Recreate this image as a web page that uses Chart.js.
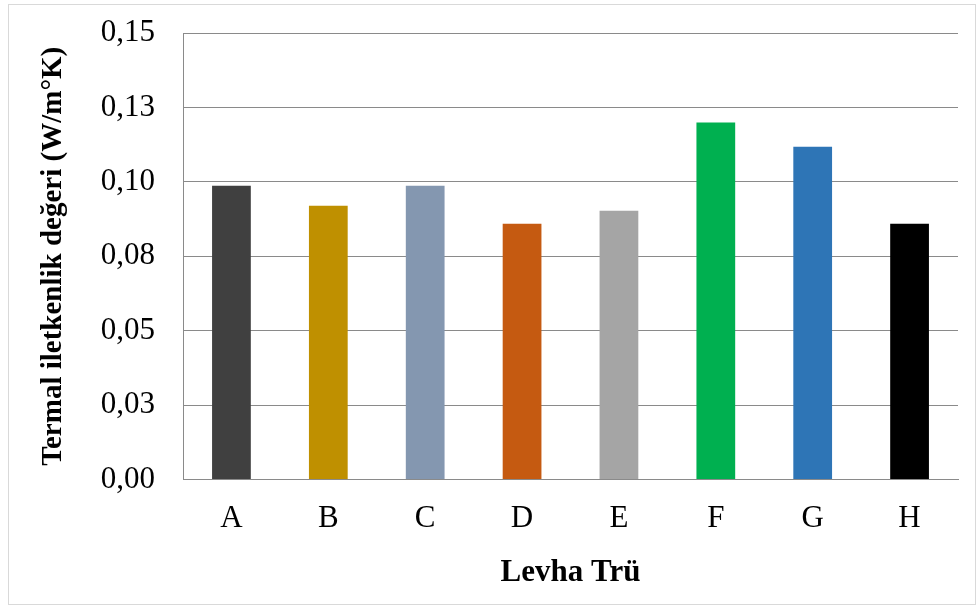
<!DOCTYPE html>
<html>
<head>
<meta charset="utf-8">
<script src="https://cdn.jsdelivr.net/npm/chart.js@4/dist/chart.umd.min.js"></script>
<style>
  html, body { margin: 0; padding: 0; background: #ffffff; }
  #wrap { width: 979px; height: 606px; position: relative; }
</style>
</head>
<body>
<div id="wrap"><canvas id="c" width="979" height="606"></canvas></div>
<script>
// Board types and measured thermal conductivity (W/m°K)
const categories = ['A', 'B', 'C', 'D', 'E', 'F', 'G', 'H'];
const conductivity = [0.0987, 0.0920, 0.0987, 0.0859, 0.0903, 0.1199, 0.1118, 0.0859];
const barColors = ['#404040', '#BF9000', '#8497B0', '#C55A11', '#A5A5A5', '#00B050', '#2E75B6', '#000000'];
const yTickLabels = ['0,00', '0,03', '0,05', '0,08', '0,10', '0,13', '0,15'];

const yTitle = 'Termal iletkenlik değeri (W/m°K)';
const xTitle = 'Levha Trü';

const serif = '"Liberation Serif", "Times New Roman", serif';

// Light outer frame around the whole figure
const frame = {
  id: 'frame',
  beforeDraw(chart) {
    const ctx = chart.ctx;
    ctx.save();
    ctx.fillStyle = '#ffffff';
    ctx.fillRect(0, 0, chart.width, chart.height);
    ctx.strokeStyle = '#d9d9d9';
    ctx.lineWidth = 1;
    ctx.strokeRect(8.5, 4.5, 967, 600);
    ctx.restore();
  }
};

new Chart(document.getElementById('c'), {
  type: 'bar',
  data: {
    labels: categories,
    datasets: [{
      data: conductivity,
      backgroundColor: barColors,
      borderWidth: 0,
      barPercentage: 0.4,
      categoryPercentage: 1.0
    }]
  },
  options: {
    responsive: false,
    animation: false,
    devicePixelRatio: 1,
    layout: { padding: { left: 0, top: 33, right: 21, bottom: 0 } },
    plugins: {
      legend: { display: false },
      tooltip: { enabled: false }
    },
    scales: {
      x: {
        grid: { display: false, drawTicks: false },
        border: { display: true, color: '#8a8a8a', width: 1 },
        ticks: {
          color: '#000000',
          font: { family: serif, size: 31 },
          padding: 21
        },
        title: {
          display: true,
          text: xTitle,
          color: '#000000',
          font: { family: serif, size: 31, weight: 'bold' },
          padding: { top: 0, bottom: 14 }
        },
        afterFit(scale) { scale.height = 126.5; }
      },
      y: {
        min: 0,
        max: 0.15,
        grid: { color: '#8a8a8a', lineWidth: 1, drawTicks: false },
        border: { display: true, color: '#8a8a8a', width: 1 },
        ticks: {
          stepSize: 0.025,
          color: '#000000',
          font: { family: serif, size: 31 },
          padding: 28,
          callback: (v, i) => yTickLabels[i]
        },
        title: {
          display: true,
          text: yTitle,
          color: '#000000',
          font: { family: serif, size: 29, weight: 'bold' },
          padding: { top: 36, bottom: 0 }
        },
        afterFit(scale) {
          scale.width = 183;
          scale.paddingTop = 0;
          scale.paddingBottom = 0;
        }
      }
    }
  },
  plugins: [frame]
});
</script>
</body>
</html>
